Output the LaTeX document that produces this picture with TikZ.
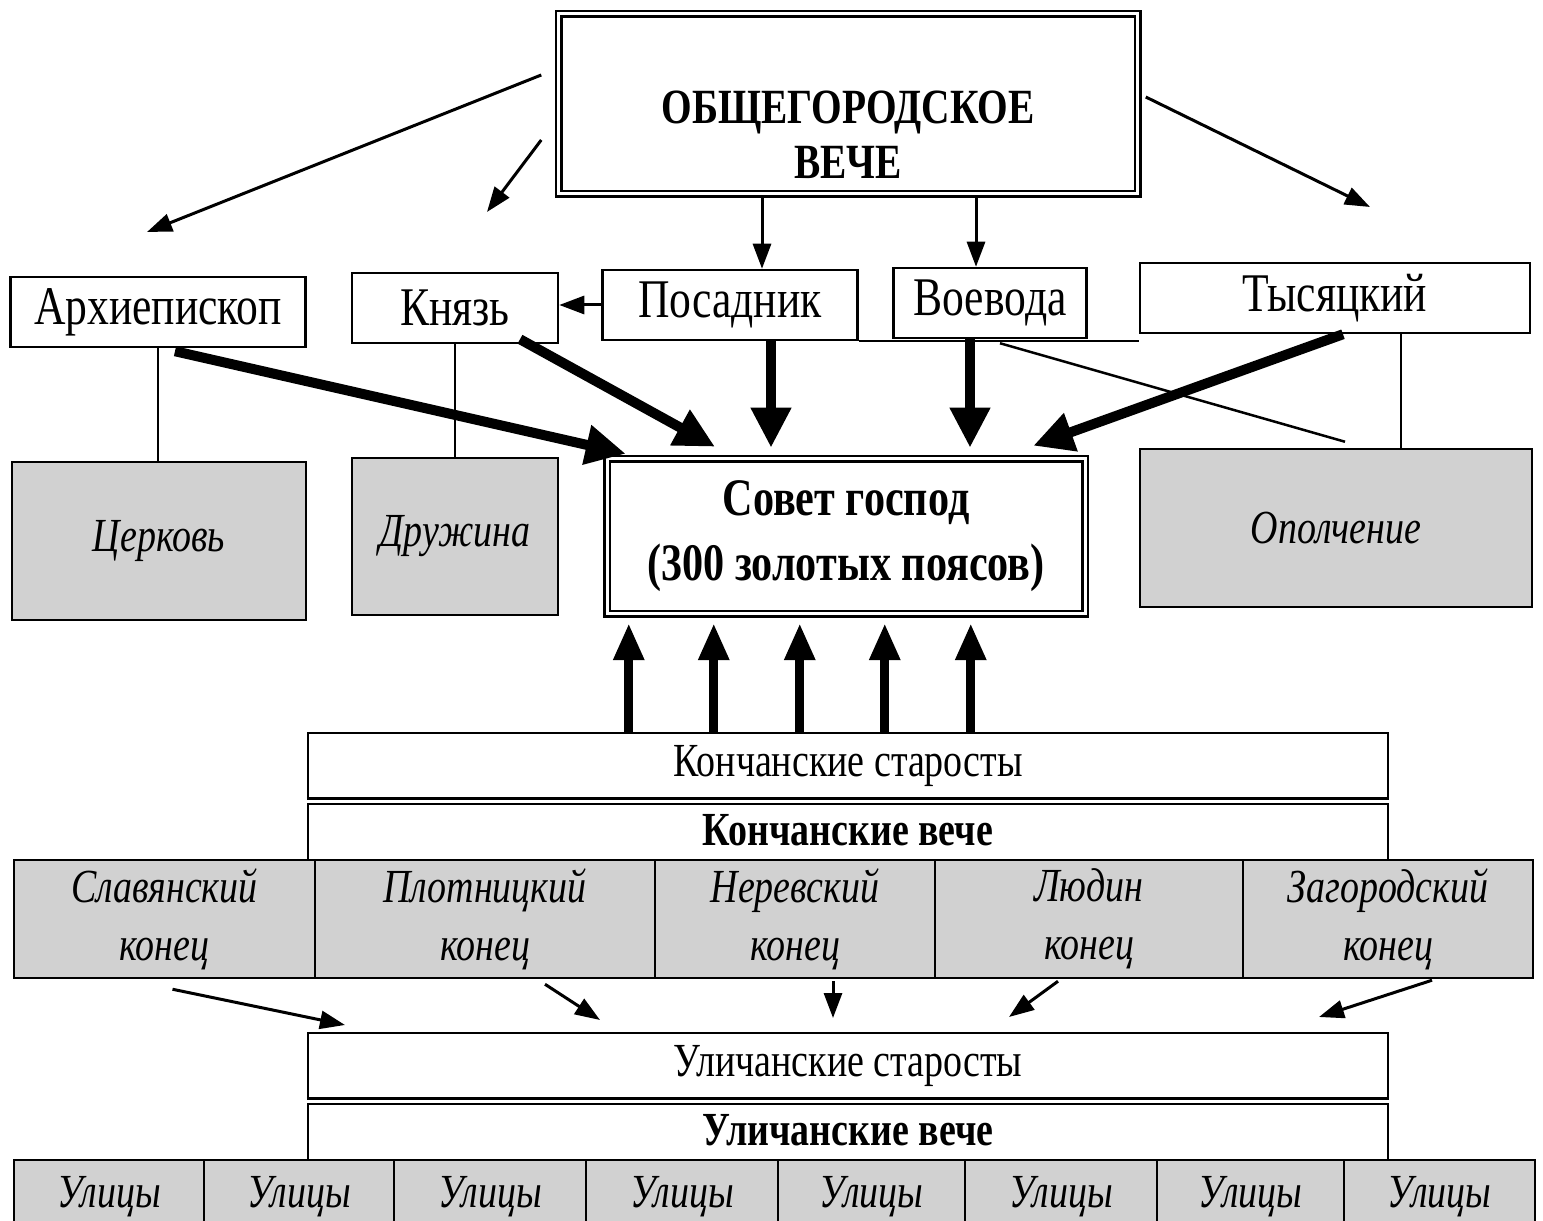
\documentclass[tikz,border=0pt]{standalone}
\usepackage{fontspec}
\setmainfont{Liberation Serif}[FakeStretch=0.8]
\usetikzlibrary{arrows.meta,calc}

\begin{document}
\begin{tikzpicture}[
    x=0.1mm, y=-0.1mm,
    box/.style={
      rectangle,
      draw,
      line width=0.25mm,
      fill=white,
      inner sep=0pt,
      anchor=center,
      align=center,
      font=\fontsize{15.5}{17}\selectfont
    },
    dbox/.style={
      box,
      double,
      double distance=0.3mm,
      font=\fontsize{15}{18.5}\selectfont\bfseries
    },
    greybox/.style={
      box,
      fill=black!18,
      font=\fontsize{13.5}{16.5}\selectfont\itshape
    },
    band/.style={box, font=\fontsize{13.5}{16}\selectfont},
    seam/.style={double, line width=0.25mm, double distance=0.3mm},
    link/.style={line width=0.25mm},
    thin arrow/.style={-{Triangle[length=2.5mm,width=1.8mm]}, line width=0.3mm},
    thick arrow/.style={-{Triangle[length=4mm,width=3.8mm]}, line width=1mm},
    up arrow/.style={-{Triangle[length=3.7mm,width=2.9mm]}, line width=0.9mm}
  ]
  \useasboundingbox (0,0) rectangle (1543,1221);

  % top
  \node[dbox, minimum width=57.9mm, minimum height=18mm,
    label={[align=center, yshift=-3.1mm, font=\fontsize{14}{15.6}\selectfont\bfseries]center:ОБЩЕГОРОДСКОЕ\\ВЕЧЕ}]
    (veche) at (848,104) {};

  % officials
  \node[box, minimum width=29.5mm, minimum height=7mm] (arch) at (158,312) {Архиепископ};
  \node[box, minimum width=20.6mm, minimum height=7mm] (knyaz) at (455,308) {Князь};
  \node[box, minimum width=25.5mm, minimum height=7mm] (posad) at (730,305) {Посадник};
  \node[box, minimum width=19.3mm, minimum height=7mm] (voev) at (990,303) {Воевода};
  \node[box, minimum width=39mm, minimum height=7mm] (tys) at (1335,298) {Тысяцкий};

  \coordinate (tA) at (147,232);
  \coordinate (tK) at (487,212);
  \coordinate (tT) at (1370,207);
  \draw[thin arrow] ($(veche.west)+(-16,-29)$) -- (tA);
  \draw[thin arrow] ($(veche.west)+(-16,36)$) -- (tK);
  \draw[thin arrow] ($(veche.east)+(7,-7)$) -- (tT);
  \coordinate (pd) at ($(posad.north)+(32,0)$);
  \coordinate (vd) at ($(voev.north)+(-14,0)$);
  \draw[thin arrow] (pd |- veche.south) -- (pd);
  \draw[thin arrow] (vd |- veche.south) -- (vd);
  \draw[thin arrow] (posad.west) -- (posad.west -| knyaz.east);

  % council and groups
  \node[dbox, minimum width=47.8mm, minimum height=15.5mm] (sovet) at (846,536.5)
    {Совет господ\\(300 золотых поясов)};
  \node[greybox, minimum width=29.4mm, minimum height=15.8mm] (cerkov) at (159,541) {Церковь};
  \node[greybox, minimum width=20.6mm, minimum height=15.7mm] (druzh) at (455,536.5) {Дружина};
  \node[greybox, minimum width=39.2mm, minimum height=15.8mm] (opol) at (1336,528) {Ополчение};

  \draw[link] (arch.south) -- (arch.south |- cerkov.north);
  \draw[link] (knyaz.south) -- (knyaz.south |- druzh.north);
  \draw[link] (posad.south east) -- (posad.south east -| tys.west);
  \draw[link] ($(voev.south)+(10,4)$) -- ($(opol.north)+(9,-6)$);
  \coordinate (to) at ($(tys.south)+(66,0)$);
  \draw[link] (to) -- (to |- opol.north);

  \draw[thick arrow] ($(arch.south)+(17,3)$) -- ($(sovet.north west)+(20,-4)$);
  \draw[thick arrow] ($(knyaz.south)+(65,-5)$) -- ($(sovet.north)+(-131,-11)$);
  \coordinate (pv) at ($(posad.south)+(41,0)$);
  \coordinate (vv) at ($(voev.south)+(-20,0)$);
  \draw[thick arrow, shorten >=1mm] (pv) -- (pv |- sovet.north);
  \draw[thick arrow, shorten >=1mm] (vv) -- (vv |- sovet.north);
  \draw[thick arrow] ($(tys.south)+(8,0)$) -- ($(sovet.north east)+(-53,-12)$);

  % ends
  \node[band, minimum width=108mm, minimum height=6.7mm] (kstar) at (848,766.5) {Кончанские старосты};
  \node[band, minimum width=108mm, minimum height=6mm, font=\fontsize{13.5}{16}\selectfont\bfseries]
    (kvech) at (848,830) {Кончанские вече};
  \draw[seam] (kstar.south west) -- (kstar.south east);

  \foreach \dx in {322,407,493,578,664} {
    \coordinate (u) at ($(kstar.north west)+(\dx,0)$);
    \draw[up arrow, shorten >=0.8mm] (u) -- (u |- sovet.south);
  }

  \foreach \a/\b/\t [count=\i] in {14/315/{Славянский\\конец}, 315/655/{Плотницкий\\конец},
      655/935/{Неревский\\конец}, 935/1243/{Людин\\конец}, 1243/1533/{Загородский\\конец}}
    \node[greybox, minimum width=(\b-\a)*0.1mm, minimum height=11.8mm] (k\i) at ({(\a+\b)/2},919) {\t};

  % streets
  \node[band, minimum width=108mm, minimum height=6.7mm] (ustar) at (848,1066.5) {Уличанские старосты};
  \node[band, minimum width=108mm, minimum height=6mm, font=\fontsize{13.5}{16}\selectfont\bfseries]
    (uvech) at (848,1130) {Уличанские вече};
  \draw[seam] (ustar.south west) -- (ustar.south east);

  \coordinate (d1) at (345,1025);
  \coordinate (d2) at (600,1020);
  \coordinate (d3) at (833,1018);
  \coordinate (d4) at (1009,1017);
  \coordinate (d5) at (1319,1017);
  \draw[thin arrow] ($(k1.south)+(8,10)$) -- (d1);
  \draw[thin arrow] ($(k2.south)+(60,5)$) -- (d2);
  \draw[thin arrow] ($(k3.south)+(38,2)$) -- (d3);
  \draw[thin arrow] ($(k4.south)+(-31,2)$) -- (d4);
  \draw[thin arrow] ($(k5.south)+(44,1)$) -- (d5);

  \foreach \a/\b [count=\i] in {14/204, 204/394, 394/586, 586/778, 778/965, 965/1157, 1157/1344, 1344/1535}
    \node[greybox, minimum width=(\b-\a)*0.1mm, minimum height=7.4mm] (s\i) at ({(\a+\b)/2},1197) {Улицы};
\end{tikzpicture}
\end{document}
